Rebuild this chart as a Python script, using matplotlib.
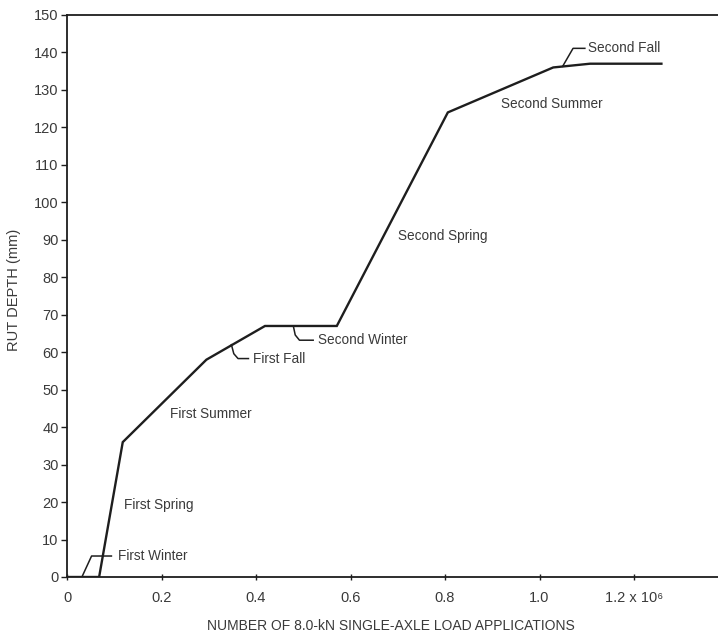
import numpy as np
import matplotlib
matplotlib.use("Agg")
import matplotlib.pyplot as plt

# Data (load applications in millions, rut depth in mm)
loads = [0.0, 0.068, 0.118, 0.295, 0.419, 0.571, 0.806, 1.029, 1.107, 1.258]
rut_depth = [0.0, 0.0, 36.0, 58.0, 67.0, 67.0, 124.0, 136.0, 137.0, 137.0]

xticks = [0, 0.2, 0.4, 0.6, 0.8, 1.0, 1.2]
xtick_labels = ["0", "0.2", "0.4", "0.6", "0.8", "1.0", "1.2 x 10\u2076"]
yticks = list(range(0, 151, 10))

# Season labels placed directly (text, x, y)
direct_labels = [
    ("First Spring", 0.121, 19.2),
    ("First Summer", 0.218, 43.5),
    ("Second Spring", 0.70, 91.0),
    ("Second Summer", 0.918, 126.2),
]
# Leader labels: text, leader path x, leader path y, text x, text y
leader_labels = [
    ("First Winter", [0.033, 0.052, 0.094], [0.4, 5.6, 5.6], 0.108, 5.6),
    ("First Fall", [0.348, 0.353, 0.362, 0.384], [62.0, 59.6, 58.3, 58.3], 0.394, 58.3),
    ("Second Winter", [0.479, 0.483, 0.492, 0.521], [67.0, 64.6, 63.2, 63.2], 0.532, 63.2),
    ("Second Fall", [1.049, 1.071, 1.096], [136.3, 141.1, 141.1], 1.103, 141.2),
]

plt.rcParams['font.family'] = ['Liberation Sans', 'DejaVu Sans']
text_color = "#3a3a3a"
line_color = "#1e1e1e"

fig = plt.figure(figsize=(7.18, 6.35), dpi=100)
ax = fig.add_axes([67/718, 58/635, 661.5/718, 562/635])

ax.plot(loads, rut_depth, color=line_color, lw=1.7, solid_joinstyle='miter')

for txt, x, y in direct_labels:
    ax.text(x, y, txt, fontsize=9.8, color=text_color, va='center', ha='left')

for txt, lx, ly, tx, ty in leader_labels:
    ax.plot(lx, ly, color=line_color, lw=1.1)
    ax.text(tx, ty, txt, fontsize=9.8, color=text_color, va='center', ha='left')

ax.set_xlim(0, 1.4)
ax.set_ylim(0, 150)
ax.set_xticks(xticks)
ax.set_xticklabels(xtick_labels, fontsize=10.5, color=text_color)
ax.set_yticks(yticks)
ax.set_yticklabels([str(v) for v in yticks], fontsize=10.5, color=text_color)
ax.tick_params(axis='x', direction='inout', length=4, width=1, pad=8, colors=line_color, labelcolor=text_color)
ax.tick_params(axis='y', direction='out', length=4, width=1, pad=2, colors=line_color, labelcolor=text_color)

for s in ['left', 'bottom', 'top']:
    ax.spines[s].set_linewidth(1.3)
    ax.spines[s].set_color(line_color)
ax.spines['right'].set_visible(False)

ax.set_xlabel("NUMBER OF 8.0-kN SINGLE-AXLE LOAD APPLICATIONS", fontsize=10, color=text_color)
ax.xaxis.set_label_coords((391 - 67) / 661.5, -42 / 562)
ax.set_ylabel("RUT DEPTH (mm)", fontsize=10.5, color=text_color)
ax.yaxis.set_label_coords(-46 / 661.5, (577 - 290) / 562)

fig.savefig("out.png", dpi=100)
